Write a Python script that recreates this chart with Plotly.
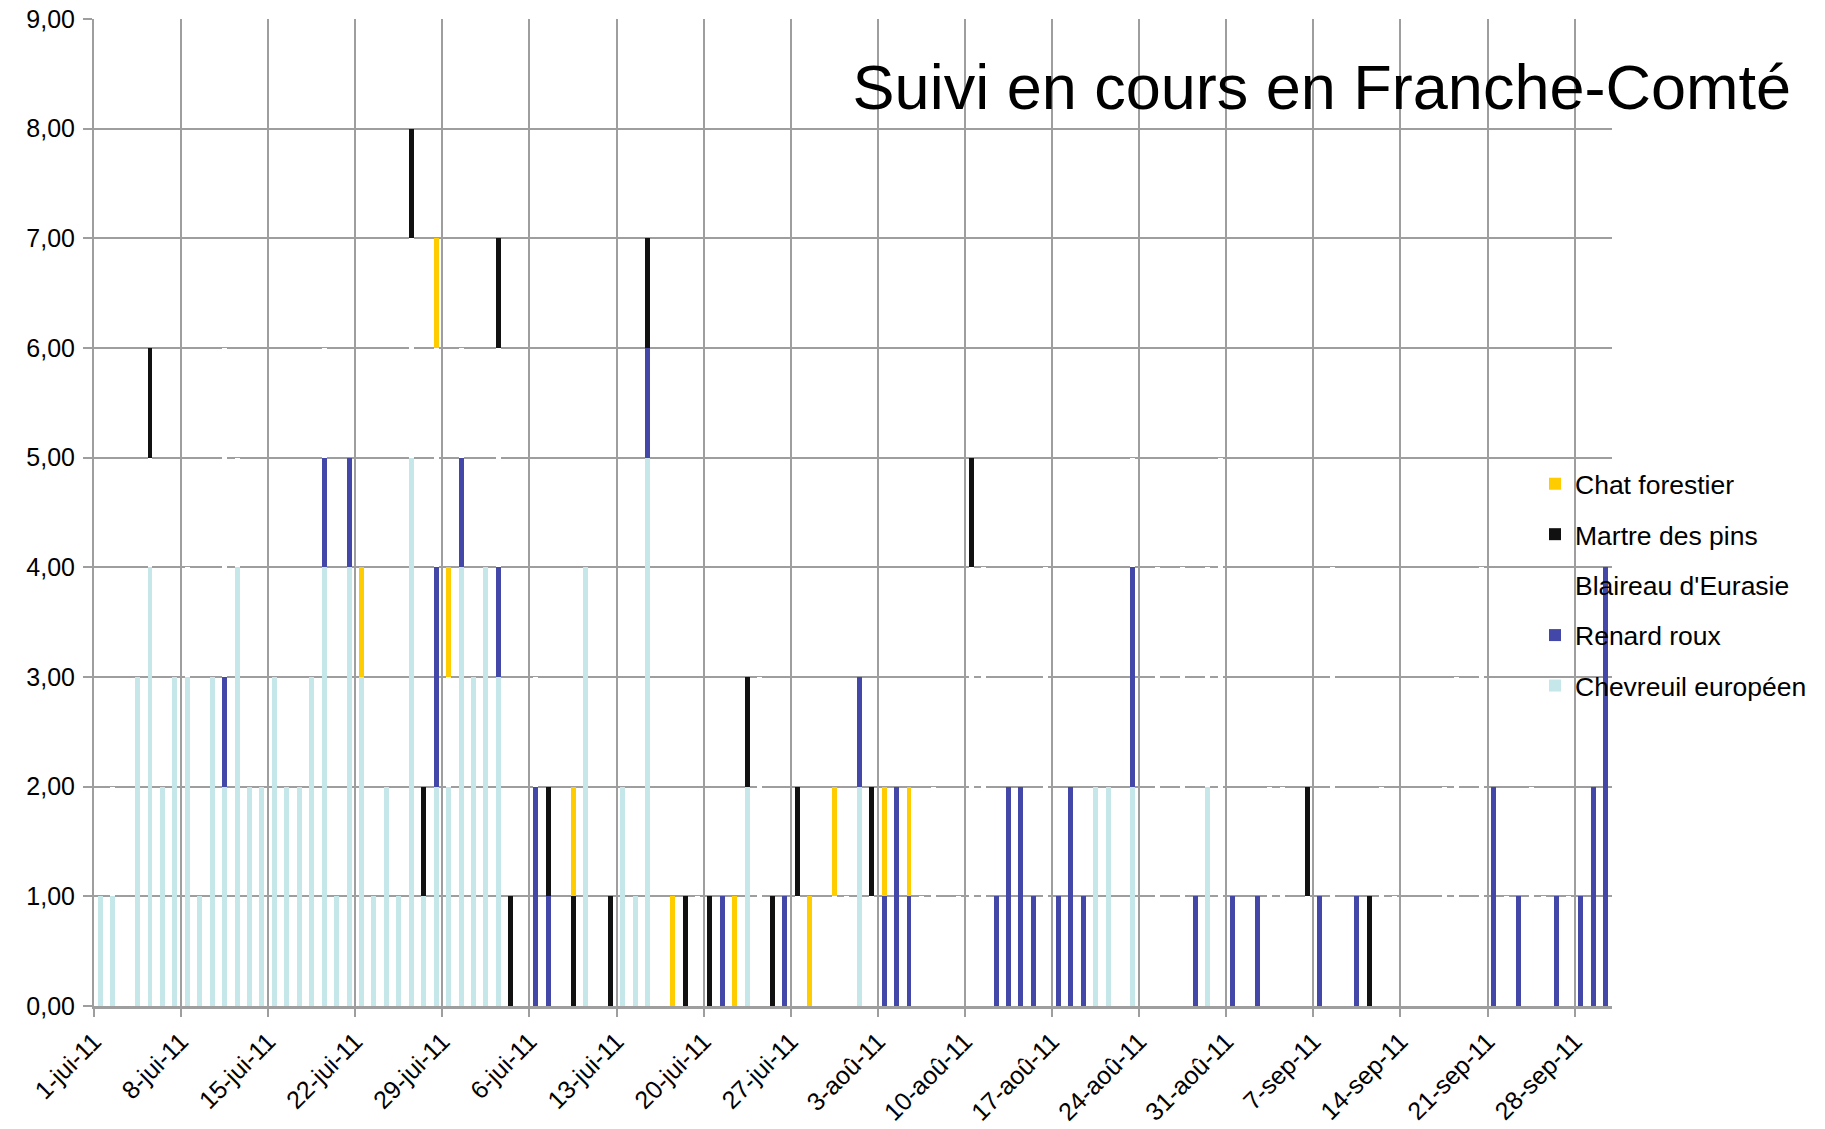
import plotly.graph_objects as go
import pandas as pd

# ---------------- data (daily counts, 1 June 2011 -> 30 Sep 2011) ----------------
start_date = "2011-06-01"

# Chevreuil européen
chevreuil_jun = [1,1,0,3,4,2,3,3,1,3, 2,4,2,2,3,2,2,3,4,1, 4,3,1,2,1,5,1,2,2,4]
chevreuil_jul = [3,4,3,0,0,0,0,0,0,4, 0,0,2,1,5,0,0,0,0,0, 0,0,2,0,0,0,0,0,0,0, 0]
chevreuil_aug = [2,0,0,0,0,0,0,0,0,0, 0,0,0,0,0,0,0,0,0,2, 2,0,2,0,0,0,0,0,2,0, 0]
chevreuil_sep = [0,0,0,0,0,0,0,0,0,0, 0,0,0,0,0,0,0,0,0,0, 0,0,0,0,0,0,0,0,0,0]

# Renard roux
renard_jun = [0,0,0,0,0,0,0,0,0,0, 1,0,0,0,0,0,0,0,1,0, 1,0,0,0,0,0,0,2,0,1]
renard_jul = [0,0,1,0,0,2,1,0,0,0, 0,0,0,0,1,0,0,0,0,0, 1,0,0,0,0,1,0,0,0,0, 0]
renard_aug = [1,0,1,2,1,0,0,0,0,0, 0,1,2,2,1,0,1,2,1,0, 0,0,2,0,0,0,0,1,0,0, 1]
renard_sep = [0,1,0,0,0,0,1,0,0,1, 0,0,0,0,0,0,0,0,0,0, 2,0,1,0,0,1,0,1,2,4]

# Blaireau d'Eurasie
blaireau_jun = [0,1,0,0,1,0,0,1,0,0, 3,1,0,0,0,0,0,0,1,0, 0,0,0,0,0,2,0,2,1,1]
blaireau_jul = [0,0,2,0,0,1,0,0,0,0, 0,0,0,0,0,0,0,0,1,0, 0,0,0,3,0,0,1,0,0,1, 1]
blaireau_aug = [0,1,0,0,0,1,2,0,1,4, 4,0,0,0,0,4,0,0,0,0, 0,0,1,0,4,0,4,0,2,5, 0]
blaireau_sep = [0,0,2,2,0,1,0,4,0,0, 0,2,1,0,0,0,2,3,0,4, 0,1,0,2,1,0,1,0,0,0]

# Martre des pins
martre_jun = [0,0,0,0,1,0,0,0,0,0, 0,0,0,0,0,0,0,0,0,0, 0,0,0,0,0,1,1,0,0,0]
martre_jul = [0,0,1,1,0,0,1,0,1,0, 0,1,0,0,1,0,0,1,0,1, 0,0,1,0,1,0,1,0,0,0, 0]
martre_aug = [0,1,0,0,0,0,0,0,0,1, 0,0,0,0,0,0,0,0,0,0, 0,0,0,0,0,0,0,0,0,0, 0]
martre_sep = [0,0,0,0,0,1,0,0,0,0, 1,0,0,0,0,0,0,0,0,0, 0,0,0,0,0,0,0,0,0,0]

# Chat forestier
chat_jun = [0,0,0,0,0,0,0,0,0,0, 0,0,0,0,0,0,0,0,0,0, 0,1,0,0,0,0,0,1,1,0]
chat_jul = [0,0,0,0,0,0,0,0,1,0, 0,0,0,0,0,0,1,0,0,0, 0,1,0,0,0,0,0,1,0,1, 0]
chat_aug = [0,0,1,0,1,0,0,0,0,0, 0,0,0,0,0,0,0,0,0,0, 0,0,0,0,0,0,0,0,0,0, 0]
chat_sep = [0,0,0,0,0,0,0,0,0,0, 0,0,0,0,0,0,0,0,0,0, 0,0,0,0,0,0,0,0,0,0]

tick_labels = ["1-jui-11", "8-jui-11", "15-jui-11", "22-jui-11", "29-jui-11",
               "6-jui-11", "13-jui-11", "20-jui-11", "27-jui-11", "3-aoû-11",
               "10-aoû-11", "17-aoû-11", "24-aoû-11", "31-aoû-11", "7-sep-11",
               "14-sep-11", "21-sep-11", "28-sep-11"]

# stacked bottom -> top ; legend rank top -> bottom
series = [
    ("Chevreuil européen", chevreuil_jun + chevreuil_jul + chevreuil_aug + chevreuil_sep, "#C6E7EA", 5),
    ("Renard roux", renard_jun + renard_jul + renard_aug + renard_sep, "#4348A8", 4),
    ("Blaireau d'Eurasie", blaireau_jun + blaireau_jul + blaireau_aug + blaireau_sep, "#FFFFFF", 3),
    ("Martre des pins", martre_jun + martre_jul + martre_aug + martre_sep, "#111111", 2),
    ("Chat forestier", chat_jun + chat_jul + chat_aug + chat_sep, "#FFCC00", 1),
]

n_days = len(series[0][1])
day_dates = pd.date_range(start_date, periods=n_days, freq="D") + pd.Timedelta(hours=12)
tick_dates = pd.date_range(start_date, periods=len(tick_labels), freq="7D")
end_date = pd.Timestamp(start_date) + pd.Timedelta(days=n_days)

GRID = "#9e9e9e"
DAY_MS = 86400000
# page body has an 8 px margin: the figure is made 8 px smaller so it fits the window
W, H = 1817, 1121
ML, MR, MT, MB = 86, 213, 11, 123

fig = go.Figure()
for name, vals, color, rank in series:
    fig.add_trace(go.Bar(
        x=day_dates, y=vals, name=name, legendgroup=name, legendrank=rank,
        marker=dict(color=color, line=dict(width=0)),
        width=0.40 * DAY_MS, cliponaxis=False,
    ))

fig.update_layout(
    width=W, height=H,
    barmode="stack",
    plot_bgcolor="white", paper_bgcolor="white",
    margin=dict(l=ML, r=MR, t=MT, b=MB, autoexpand=False),
    separators=", ",
    font=dict(family="Liberation Sans, Arial, sans-serif", size=25, color="#000000"),
    title=dict(text="Suivi en cours en Franche-Comté", xref="container", yref="container",
               x=1783 / W, xanchor="right", y=1 - 79 / H, yanchor="middle",
               font=dict(size=63, color="#000000"), automargin=False),
    legend=dict(xref="container", yref="container", x=1527 / W, xanchor="left",
                y=1 - 452 / H, yanchor="top", traceorder="grouped",
                tracegroupgap=13, font=dict(size=26.5), bgcolor="rgba(0,0,0,0)"),
    showlegend=True,
)

fig.update_xaxes(
    type="date", range=[pd.Timestamp(start_date), end_date], automargin=False,
    tickmode="array", tickvals=tick_dates, ticktext=tick_labels, tickangle=-45,
    showgrid=True, gridcolor=GRID, gridwidth=1.6,
    showline=True, linecolor=GRID, linewidth=2.5,
    ticks="outside", ticklen=8, tickcolor=GRID, tickwidth=1.6,
    tickfont=dict(size=25), zeroline=False, ticklabeloverflow="allow",
)
fig.update_yaxes(
    range=[0, 9], tick0=0, dtick=1, tickformat=".2f", automargin=False,
    showgrid=True, gridcolor=GRID, gridwidth=1.6,
    showline=True, linecolor=GRID, linewidth=2,
    ticks="outside", ticklen=9, tickcolor=GRID, tickwidth=1.6,
    ticklabelstandoff=3, tickfont=dict(size=25), zeroline=False,
    ticklabeloverflow="allow",
)

fig.write_html("out.html")
